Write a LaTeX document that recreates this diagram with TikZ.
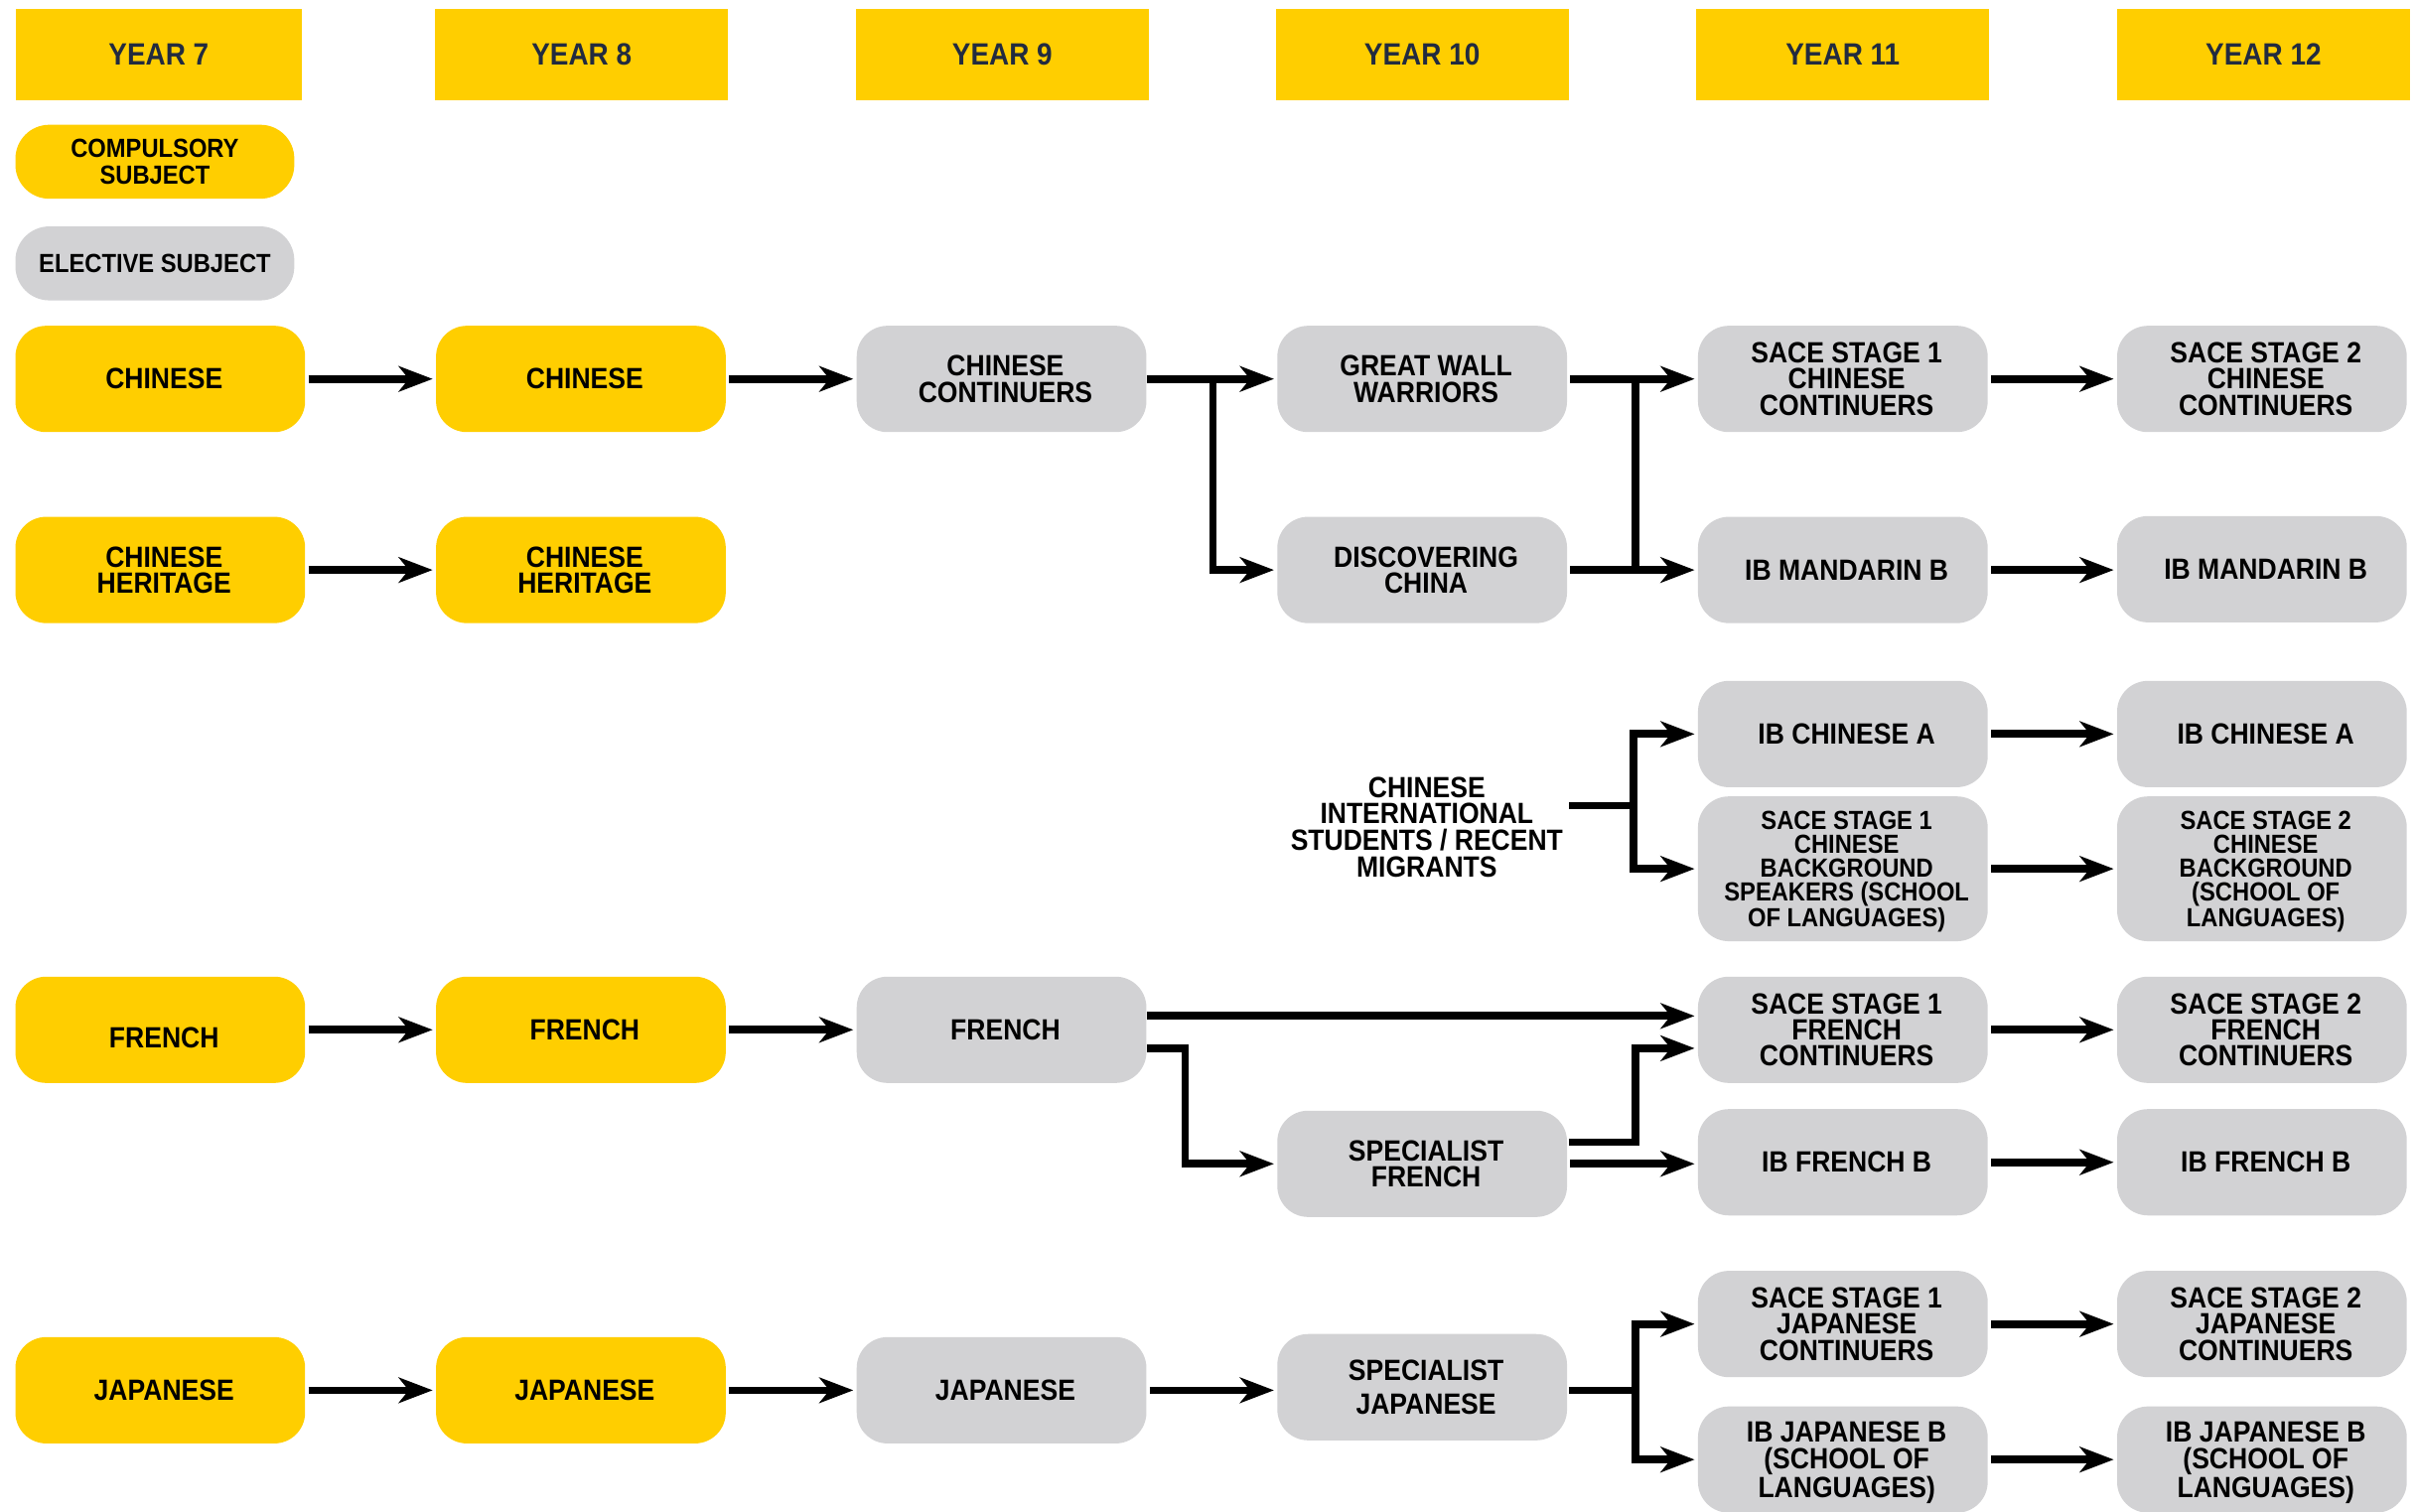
\documentclass[tikz,border=0pt]{standalone}
\usepackage{fontspec}
\usetikzlibrary{arrows.meta,calc}
\newfontfamily\boxfont[FakeStretch=0.9]{Liberation Sans}
\definecolor{cyellow}{RGB}{255,206,0}
\definecolor{cgray}{RGB}{210,210,212}
\definecolor{cnavy}{RGB}{34,43,63}
\tikzset{
  base/.style={rounded corners=20pt, minimum width=188pt, minimum height=69pt, inner sep=0pt},
  ybox/.style={base, fill=cyellow},
  gbox/.style={base, fill=cgray},
  txt/.style={align=center, inner sep=0pt, font=\boxfont\bfseries\fontsize{19}{17}\selectfont},
  small/.style={font=\boxfont\bfseries\fontsize{17}{15.5}\selectfont},
  hdr/.style={fill=cyellow, minimum width=190pt, minimum height=59pt, inner sep=0pt, text=cnavy,
    font=\boxfont\bfseries\fontsize{20}{22}\selectfont},
  legend/.style={rounded corners=22pt, minimum width=181pt, minimum height=48pt, align=center, inner sep=2pt,
    font=\boxfont\bfseries\fontsize{17}{17}\selectfont},
  ln/.style={line width=5pt},
  arr/.style={line width=5pt, -{Stealth[length=22pt,width=16.5pt,inset=6.5pt]}, shorten >=2pt},
}
% #1 name, #2 box style, #3 position, #4 text style, #5 text
\newcommand\subj[5]{%
  \node[#2] (#1) at (#3) {};
  \node[txt,#4] (#1t) at ($(#1)+(2.5,0)$) {#5};}
\begin{document}
\begin{tikzpicture}[x=1pt,y=-1pt]
\useasboundingbox[fill=white] (0,0) rectangle (1568,981);
% headers
\node[hdr, minimum width=186pt] (h7) at (103,35.5) {YEAR 7};
\node[hdr] (h8) at (377.5,35.5) {YEAR 8};
\node[hdr] (h9) at (650.5,35.5) {YEAR 9};
\node[hdr] (h10) at (923,35.5) {YEAR 10};
\node[hdr] (h11) at (1196,35.5) {YEAR 11};
\node[hdr] (h12) at (1469,35.5) {YEAR 12};
% legend
\node[legend, fill=cyellow] (leg1) at (100.5,105) {COMPULSORY\\SUBJECT};
\node[legend, fill=cgray] (leg2) at (100.5,171) {ELECTIVE SUBJECT};
% chinese row
\subj{c7}{ybox}{104,246}{}{CHINESE}
\subj{c8}{ybox}{377,246}{}{CHINESE}
\subj{cc9}{gbox}{650,246}{}{CHINESE\\CONTINUERS}
\subj{gw10}{gbox}{923,246}{}{GREAT WALL\\WARRIORS}
\subj{s1c11}{gbox}{1196,246}{}{SACE STAGE 1\\CHINESE\\CONTINUERS}
\subj{s2c12}{gbox}{1468,246}{}{SACE STAGE 2\\CHINESE\\CONTINUERS}
% heritage row
\subj{ch7}{ybox}{104,370}{}{CHINESE\\HERITAGE}
\subj{ch8}{ybox}{377,370}{}{CHINESE\\HERITAGE}
\subj{dc10}{gbox}{923,370}{}{DISCOVERING\\CHINA}
\subj{ibm11}{gbox}{1196,370}{}{IB MANDARIN B}
\subj{ibm12}{gbox}{1468,369.5}{}{IB MANDARIN B}
% international students
\node[txt, font=\boxfont\bfseries\fontsize{19}{17.3}\selectfont] (cis) at (926,537)
  {CHINESE\\INTERNATIONAL\\STUDENTS / RECENT\\MIGRANTS};
\subj{ica11}{gbox}{1196,476.5}{}{IB CHINESE A}
\subj{ica12}{gbox}{1468,476.5}{}{IB CHINESE A}
\subj{bg11}{gbox, minimum height=94pt}{1196,564}{small, yshift=-2pt}{SACE STAGE 1\\CHINESE\\BACKGROUND\\SPEAKERS (SCHOOL\\OF LANGUAGES)}
\subj{bg12}{gbox, minimum height=94pt}{1468,564}{small, yshift=-2pt}{SACE STAGE 2\\CHINESE\\BACKGROUND\\(SCHOOL OF\\LANGUAGES)}
% french
\subj{f7}{ybox}{104,668.5}{yshift=-5pt}{FRENCH}
\subj{f8}{ybox}{377,668.5}{}{FRENCH}
\subj{f9}{gbox}{650,668.5}{}{FRENCH}
\subj{s1f11}{gbox}{1196,668.5}{}{SACE STAGE 1\\FRENCH\\CONTINUERS}
\subj{s2f12}{gbox}{1468,668.5}{}{SACE STAGE 2\\FRENCH\\CONTINUERS}
\subj{spf10}{gbox}{923,755.5}{}{SPECIALIST\\FRENCH}
\subj{ibf11}{gbox}{1196,754.5}{}{IB FRENCH B}
\subj{ibf12}{gbox}{1468,754.5}{}{IB FRENCH B}
% japanese
\subj{j7}{ybox}{104,902.5}{}{JAPANESE}
\subj{j8}{ybox}{377,902.5}{}{JAPANESE}
\subj{j9}{gbox}{650,902.5}{}{JAPANESE}
\subj{spj10}{gbox}{923,900.5}{font=\boxfont\bfseries\fontsize{19}{22}\selectfont}{SPECIALIST\\JAPANESE}
\subj{s1j11}{gbox}{1196,859.5}{}{SACE STAGE 1\\JAPANESE\\CONTINUERS}
\subj{s2j12}{gbox}{1468,859.5}{}{SACE STAGE 2\\JAPANESE\\CONTINUERS}
\subj{ibj11}{gbox}{1196,947.5}{font=\boxfont\bfseries\fontsize{19}{17.5}\selectfont, yshift=-2pt}{IB JAPANESE B\\(SCHOOL OF\\LANGUAGES)}
\subj{ibj12}{gbox}{1468,947.5}{font=\boxfont\bfseries\fontsize{19}{17.5}\selectfont, yshift=-2pt}{IB JAPANESE B\\(SCHOOL OF\\LANGUAGES)}

% ---- connectors: chinese
\draw[arr, shorten <=2pt] (c7.east) -- (c8.west);
\draw[arr, shorten <=2pt] (c8.east) -- (cc9.west);
\draw[arr] (cc9.east) -- (gw10.west);
\coordinate (b1) at ($(cc9.east)+(43,0)$);
\draw[arr] ($(b1)+(0,-2.5)$) |- (dc10.west);
\draw[arr, shorten <=2pt] (gw10.east) -- (s1c11.west);
\draw[arr, shorten <=2pt] (dc10.east) -- (ibm11.west);
\coordinate (b2) at ($(gw10.east)+(44,0)$);
\draw[ln, line cap=rect] (b2) -- (b2 |- dc10.east);
\draw[arr, shorten <=2pt] (s1c11.east) -- (s2c12.west);
\draw[arr, shorten <=2pt] (ibm11.east) -- (ibm12.west |- ibm11.east);
\draw[arr, shorten <=2pt] (ch7.east) -- (ch8.west);
% international
\coordinate (b3) at (1060,523);
\draw[ln] (cis.east |- b3) ++(4,0) -- (b3);
\draw[arr] ($(b3)+(0,2.5)$) |- (ica11.west);
\draw[arr] ($(b3)+(0,-2.5)$) |- (bg11.west);
\draw[arr, shorten <=2pt] (ica11.east) -- (ica12.west);
\draw[arr, shorten <=2pt] (bg11.east) -- (bg12.west);
% french
\draw[arr, shorten <=2pt] (f7.east) -- (f8.west);
\draw[arr, shorten <=2pt] (f8.east) -- (f9.west);
\draw[arr] ($(f9.east)+(0,-9)$) -- ($(s1f11.west)+(0,-9)$);
\coordinate (b4) at ($(f9.east)+(25,12)$);
\draw[arr] ($(f9.east)+(0,12)$) -- (b4) |- (spf10.west);
\coordinate (b5) at ($(spf10.east)+(44,-14)$);
\draw[arr] ($(spf10.east)+(1,-14)$) -- (b5) |- ($(s1f11.west)+(0,12)$);
\draw[arr, shorten <=2pt] (spf10.east) -- (ibf11.west |- spf10.east);
\draw[arr, shorten <=2pt] (s1f11.east) -- (s2f12.west);
\draw[arr, shorten <=2pt] (ibf11.east) -- (ibf12.west);
% japanese
\draw[arr, shorten <=2pt] (j7.east) -- (j8.west);
\draw[arr, shorten <=2pt] (j8.east) -- (j9.west);
\draw[arr, shorten <=2pt] (j9.east) -- (spj10.west |- j9.east);
\coordinate (b6) at ($(spj10.east)+(44,2)$);
\draw[ln] ($(spj10.east)+(1,2)$) -- (b6);
\draw[arr] ($(b6)+(0,2.5)$) |- (s1j11.west);
\draw[arr] ($(b6)+(0,-2.5)$) |- (ibj11.west);
\draw[arr, shorten <=2pt] (s1j11.east) -- (s2j12.west);
\draw[arr, shorten <=2pt] (ibj11.east) -- (ibj12.west);
\end{tikzpicture}
\end{document}
